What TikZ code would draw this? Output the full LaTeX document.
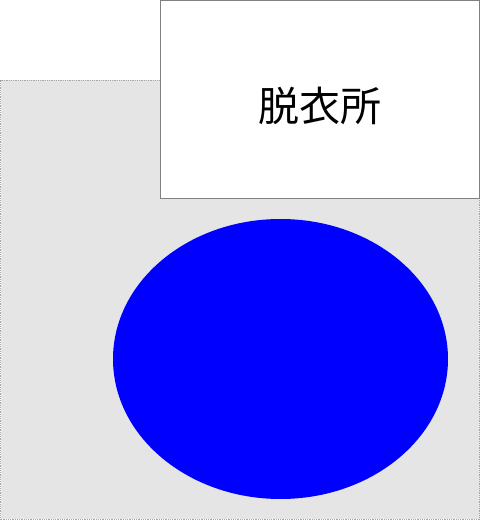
\documentclass[tikz,border=0pt]{standalone}
\usepackage{fontspec}
\newfontfamily\cjk{Noto Sans CJK JP}
\tikzset{
  floor/.style={fill=black!10, draw=black!35, densely dotted, line width=0.8pt},
  room/.style={fill=white, draw=black!50, line width=1pt},
  tub/.style={fill=blue, draw=none}
}
\begin{document}
\begin{tikzpicture}[x=1pt,y=1pt]
\useasboundingbox (0,0) rectangle (480,520);
\fill[white] (0,0) rectangle (480,520);
\path[floor] (0.5,0.5) rectangle (479.5,440);
\path[room] (160,321) rectangle (479.5,519.5);
\node[font=\cjk\fontsize{41}{45}\selectfont] (label) at (319.5,414) {脱衣所};
\path[tub] (280.5,161) ellipse [x radius=167.5, y radius=140];
\end{tikzpicture}
\end{document}
